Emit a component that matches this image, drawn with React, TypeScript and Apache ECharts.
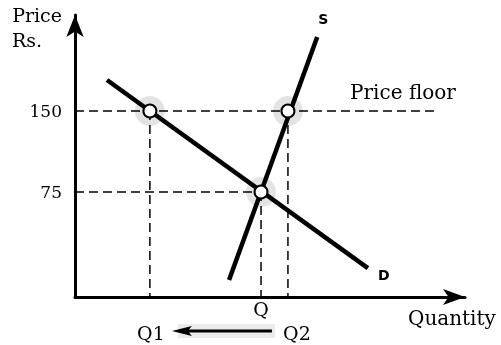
import { useEffect, useRef } from "react";
import * as echarts from "echarts";

// ---- data (price in Rs., quantity in arbitrary units) ----
const priceTicks = [75, 150];
const quantityTickValues = [47.7];
const quantityTickLabels = ["Q"];
const equilibriumPrice = 75;
const floorPrice = 150;
const qEquilibrium = 47.7;
const q1 = 19.2;
const q2 = 54.6;
const floorLineEnd = 93.1;
const demandLine = [[8.2, 178.7], [75.1, 4.6]];
const supplyLine = [[39.5, -6.5], [62.1, 218.5]];
const xRange = [0, 100];
const yRange = [-22.2, 238.9];
const yTitle = ["Price", "Rs."];
const xTitle = "Quantity";
const floorTitle = "Price floor";
const shiftLabels = ["Q1", "Q2"];
const curveLabels = ["S", "D"];

export default function App() {
  const ref = useRef<HTMLDivElement>(null);
  useEffect(() => {
    const chart = echarts.init(ref.current!, null, { renderer: "svg" });
    const serif = "'DejaVu Serif', serif";
    const yMin = yRange[0];
    const dashed = (data: number[][]) => ({
      type: "line",
      data,
      symbol: "none",
      silent: true,
      z: 2,
      lineStyle: { color: "#000", width: 1.5, type: [9, 5] },
    });
    const points = [
      [q1, floorPrice],
      [q2, floorPrice],
      [qEquilibrium, equilibriumPrice],
    ];
    chart.setOption({
      animation: false,
      textStyle: { fontFamily: serif, color: "#000" },
      grid: { left: 75, right: 36, top: 15, bottom: 48, containLabel: false },
      xAxis: {
        type: "value",
        min: xRange[0],
        max: xRange[1],
        axisLine: {
          onZero: false,
          symbol: ["none", "arrow"],
          symbolSize: [12, 22],
          lineStyle: { color: "#000", width: 3 },
        },
        axisTick: { show: false },
        splitLine: { show: false },
        axisLabel: {
          customValues: quantityTickValues,
          formatter: (v: number) => {
            const i = quantityTickValues.indexOf(v);
            return i >= 0 ? quantityTickLabels[i] : "";
          },
          color: "#000",
          fontFamily: serif,
          fontSize: 19,
          margin: 2,
        },
      },
      yAxis: {
        type: "value",
        min: yRange[0],
        max: yRange[1],
        axisLine: {
          onZero: false,
          symbol: ["none", "arrow"],
          symbolSize: [13, 22],
          lineStyle: { color: "#000", width: 3 },
        },
        axisTick: { show: false },
        splitLine: { show: false },
        axisLabel: {
          customValues: priceTicks,
          formatter: (v: number) => String(v),
          color: "#000",
          fontFamily: serif,
          fontSize: 17,
          margin: 13,
          padding: [0, 0, 4, 0],
        },
      },
      series: [
        {
          type: "scatter",
          data: points,
          symbolSize: 30,
          silent: true,
          z: 1,
          itemStyle: { color: "rgba(0,0,0,0.11)", opacity: 1 },
        },
        dashed([[0, floorPrice], [floorLineEnd, floorPrice]]),
        dashed([[0, equilibriumPrice], [qEquilibrium, equilibriumPrice]]),
        dashed([[q1, floorPrice], [q1, yMin]]),
        dashed([[q2, floorPrice], [q2, yMin]]),
        dashed([[qEquilibrium, equilibriumPrice], [qEquilibrium, yMin]]),
        {
          type: "line",
          data: demandLine,
          symbol: "none",
          z: 3,
          lineStyle: { color: "#000", width: 4.5 },
        },
        {
          type: "line",
          data: supplyLine,
          symbol: "none",
          z: 3,
          lineStyle: { color: "#000", width: 4.5 },
        },
        {
          type: "scatter",
          data: points,
          symbol: "circle",
          symbolSize: 13,
          z: 4,
          itemStyle: { color: "#fff", borderColor: "#000", borderWidth: 2, opacity: 1 },
        },
      ],
    });

    const px = (p: number[]) => chart.convertToPixel({ gridIndex: 0 }, p) as number[];
    const origin = px([xRange[0], yRange[0]]);
    const top = px([xRange[0], yRange[1]]);
    const q1p = px([q1, yMin]);
    const q2p = px([q2, yMin]);
    const sTop = px(supplyLine[1]);
    const dEnd = px(demandLine[1]);
    const floorEnd = px([floorLineEnd, floorPrice]);
    const arrowY = origin[1] + 34;
    const tipX = q1p[0] + 22;
    const endX = q2p[0] - 16;
    const txt = (x: number, y: number, text: string, size: number, align: string) => ({
      type: "text",
      x,
      y,
      style: {
        text,
        fill: "#000",
        font: `${size}px ${serif}`,
        textAlign: align,
        textVerticalAlign: "middle",
      },
    });
    chart.setOption({
      graphic: [
        txt(origin[0] - 13, top[1], yTitle[0], 19, "right"),
        txt(origin[0] - 63, top[1] + 25, yTitle[1], 19, "left"),
        txt(origin[0] + 333, origin[1] + 21, xTitle, 20, "left"),
        txt(floorEnd[0] - 88, floorEnd[1] - 19, floorTitle, 20, "left"),
        txt(q1p[0] + 1, arrowY + 2, shiftLabels[0], 19, "center"),
        txt(q2p[0] + 9, arrowY + 2, shiftLabels[1], 19, "center"),
        {
          type: "text",
          x: sTop[0] + 6,
          y: sTop[1] - 18,
          style: { text: curveLabels[0], fill: "#000", font: "bold 14px 'DejaVu Sans', sans-serif", textAlign: "center", textVerticalAlign: "middle" },
        },
        {
          type: "text",
          x: dEnd[0] + 16,
          y: dEnd[1] + 7,
          style: { text: curveLabels[1], fill: "#000", font: "bold 14px 'DejaVu Sans', sans-serif", textAlign: "center", textVerticalAlign: "middle" },
        },
        {
          type: "rect",
          shape: { x: tipX + 6, y: arrowY - 7, width: endX - tipX - 3, height: 14 },
          style: { fill: "rgba(0,0,0,0.08)" },
        },
        {
          type: "line",
          shape: { x1: tipX + 10, y1: arrowY, x2: endX, y2: arrowY },
          style: { stroke: "#000", lineWidth: 3 },
        },
        {
          type: "polygon",
          shape: { points: [[tipX, arrowY], [tipX + 20, arrowY - 5], [tipX + 16, arrowY], [tipX + 20, arrowY + 5]] },
          style: { fill: "#000" },
        },
      ],
    });
    return () => chart.dispose();
  }, []);
  return <div ref={ref} style={{ position: "fixed", left: 0, top: 0, width: 501, height: 345 }} />;
}
